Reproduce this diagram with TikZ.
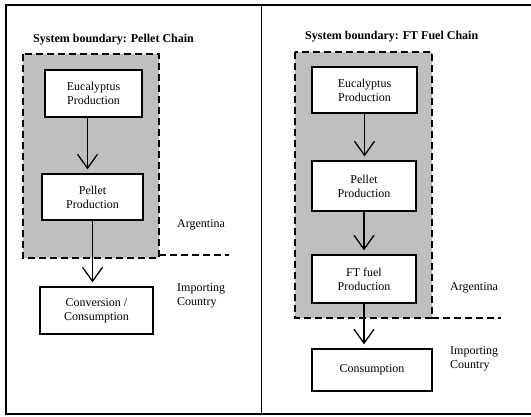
\documentclass[tikz,border=0pt]{standalone}
\usepackage{fontspec}
\setmainfont{Liberation Serif}
\usetikzlibrary{positioning,arrows.meta,calc}

\begin{document}
\begin{tikzpicture}[x=1pt, y=-1pt, font=\fontsize{12}{14}\selectfont,
    stage/.style={draw, line width=1.3pt, fill=white, align=center, inner sep=0pt},
    flow/.style={line width=1.3pt, shorten >=4pt, -{Straight Barb[length=14pt,width=20pt]}},
    boundary/.style={line width=1.4pt, dash pattern=on 7pt off 4pt, fill=gray!50},
    limit/.style={line width=1.4pt, dash pattern=on 7pt off 4pt},
    region/.style={anchor=west, align=left, inner sep=0pt}]

\useasboundingbox (0,0) rectangle (531,417);

% Page frame and divider
\draw[line width=2pt] (531,5) -- (6,5) -- (6,414) -- (531,414);
\draw[line width=1pt] (261,5) -- (261,414);

% Left half: pellet chain
\node[region, font=\fontsize{12}{14}\selectfont\bfseries] (title1) at (33,40) {System boundary: Pellet Chain};
\draw[boundary] (23,54) rectangle (159,258);
\draw[limit] (159,255) -- (229,255);

\node[stage, minimum width=97, minimum height=47] (euc1) at (93.5,93.5) {Eucalyptus\\Production};
\node[stage, minimum width=101, minimum height=46] (pel1) at (92.5,197) {Pellet\\Production};
\node[stage, minimum width=113, minimum height=47] (conv1) at (96.5,310.5) {Conversion /\\Consumption};

\node[region] (arg1) at (177,225) {Argentina};
\node[region] (imp1) at (177,296) {Importing\\Country};

\draw[flow] ([xshift=-6pt]euc1.south) -- ([xshift=-6pt]euc1.south |- pel1.north);
\draw[flow] (pel1.south) -- (pel1.south |- conv1.north);

% Right half: FT fuel chain
\node[region, font=\fontsize{12}{14}\selectfont\bfseries] (title2) at (305,37) {System boundary: FT Fuel Chain};
\draw[boundary] (295,52) rectangle (432,318);
\draw[limit] (432,318) -- (501,318);

\node[stage, minimum width=105, minimum height=46] (euc2) at (364.5,90) {Eucalyptus\\Production};
\node[stage, minimum width=104, minimum height=50] (pel2) at (364,186) {Pellet\\Production};
\node[stage, minimum width=104, minimum height=48] (ft2) at (364,279) {FT fuel\\Production};
\node[stage, minimum width=120, minimum height=42] (cons2) at (372,370) {Consumption};

\node[region] (arg2) at (450,288) {Argentina};
\node[region] (imp2) at (450,359) {Importing\\Country};

\foreach \a/\b in {euc2/pel2, pel2/ft2, ft2/cons2} {
    \draw[flow] (\a.south) -- (\a.south |- \b.north);
}
\end{tikzpicture}
\end{document}
